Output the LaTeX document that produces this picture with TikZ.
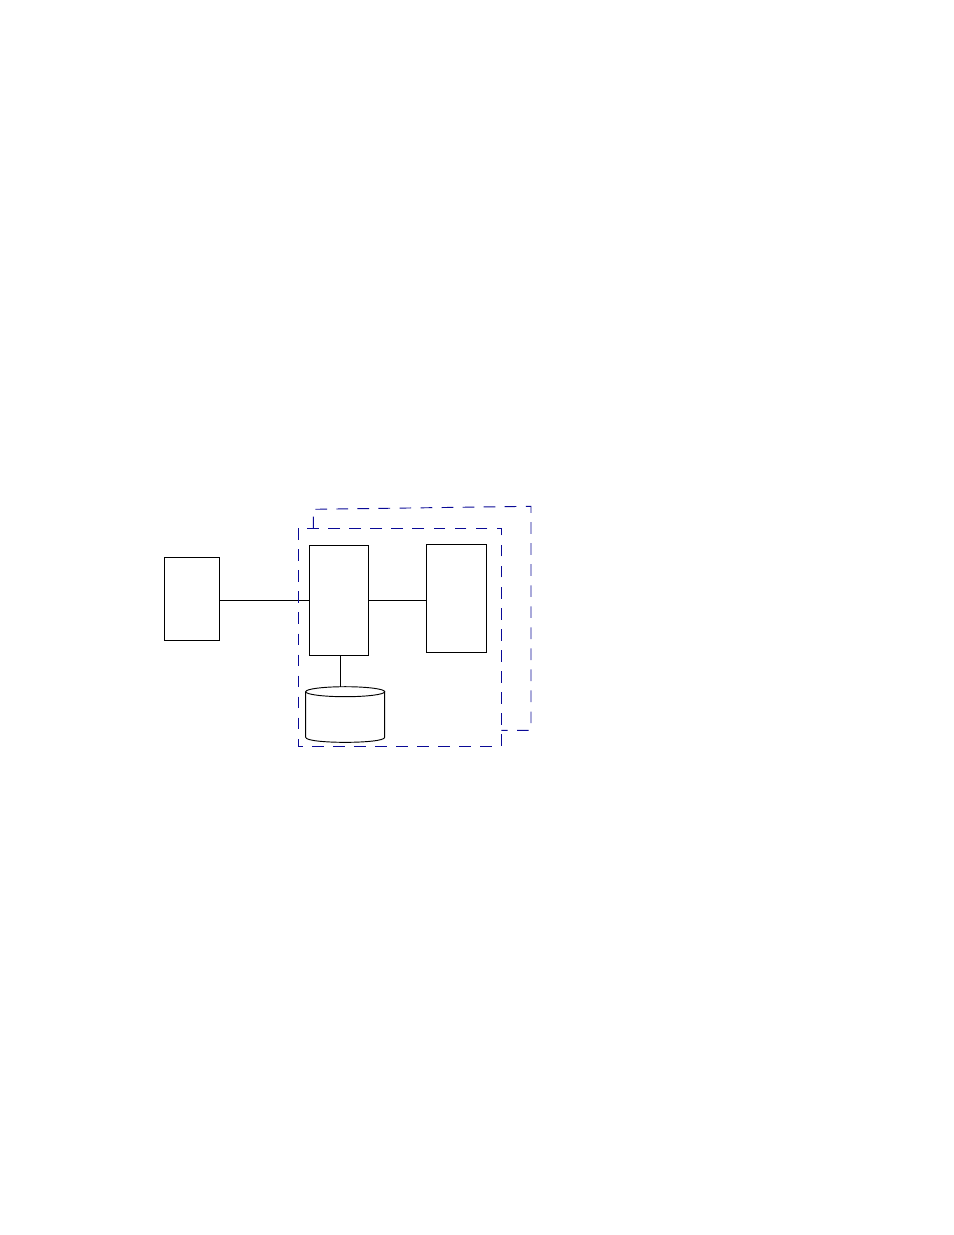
\documentclass[tikz,border=0pt]{standalone}
\definecolor{frameblue}{RGB}{10,10,150}
\begin{document}
\begin{tikzpicture}[x=0.6415pt,y=-0.6415pt,line width=0.6pt,
    blockbox/.style={draw,rectangle,inner sep=0pt},
    framedash/.style={draw=frameblue,dash pattern=on 7.5pt off 6pt}]
      \useasboundingbox (0,0) rectangle (954,1235);
      \def\px{0.6415pt}

      % boxes
      \node[blockbox,minimum width=55*\px,minimum height=83*\px] (client) at (191.8,598.8) {};
      \node[blockbox,minimum width=59*\px,minimum height=110*\px] (server) at (338.8,600.3) {};
      \node[blockbox,minimum width=59.7*\px,minimum height=107.7*\px] (service) at (456.2,598.2) {};

      % database
      \coordinate (dbtop) at (340.3,686.7);
      \draw (345.2,691.7) ellipse (39.5 and 5);
      \draw (305.7,691.7) -- (305.7,737.3)
            .. controls (305.7,744) and (384.7,744) .. (384.7,737.3) -- (384.7,691.7);

      % connectors
      \draw (server.west) -- (server.west -| client.east);
      \draw (server.east) -- (server.east -| service.west);
      \draw (server.south -| dbtop) -- (dbtop);

      % frames
      \draw[framedash] (298.3,528.3) rectangle (501.3,746);
      \draw[framedash] (313.3,528.3) -- (313.3,509.3) -- (531,506.3) -- (531,730.3) -- (501.3,730.3);
    \end{tikzpicture}
\end{document}
